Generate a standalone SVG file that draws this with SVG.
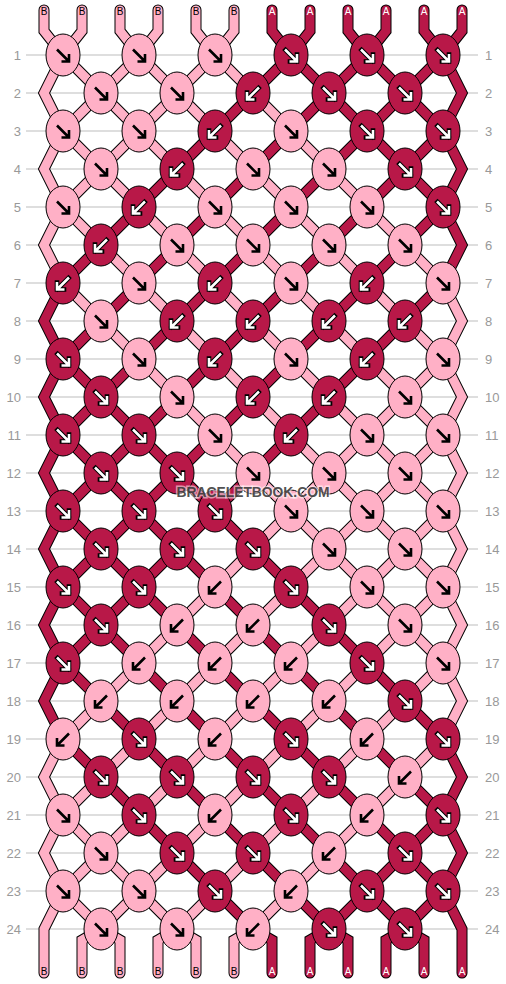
<svg xmlns="http://www.w3.org/2000/svg" xmlns:xlink="http://www.w3.org/1999/xlink" width="506" height="984" viewBox="0 0 506 984">
<style>
.g{stroke:#bdbdbd;stroke-width:1}
.lb{font-family:"Liberation Sans",Arial,sans-serif;font-size:13px;fill:#999}
.le{text-anchor:end}
.so{fill:none;stroke:#000;stroke-width:11;stroke-linecap:round;stroke-linejoin:miter}
.sp{fill:none;stroke:#ffb0c6;stroke-width:9;stroke-linecap:round;stroke-linejoin:miter}
.sd{fill:none;stroke:#b81848;stroke-width:9;stroke-linecap:round;stroke-linejoin:miter}
.kp{fill:#ffb0c6;stroke:#000;stroke-width:1}
.kd{fill:#b81848;stroke:#000;stroke-width:1}
.ab{fill:none;stroke:#000;stroke-width:2.6}
.ao{fill:none;stroke:#000;stroke-width:4.6;stroke-linecap:square}
.aw{fill:none;stroke:#fff;stroke-width:2.6}
.tb{font-family:"Liberation Sans",Arial,sans-serif;font-size:10px;fill:#000;text-anchor:middle}
.ta{font-family:"Liberation Sans",Arial,sans-serif;font-size:10px;fill:#fff;text-anchor:middle}
.wm{font-family:"Liberation Sans",Arial,sans-serif;font-weight:bold;font-size:15px;fill:#333;fill-opacity:.85;stroke:#fff;stroke-opacity:.55;stroke-width:3;paint-order:stroke;text-anchor:middle}
</style>
<defs>
<path id="s0" d="M44,10V31L63,55 101,93 139,131 177,169 215,207 253,245 291,283 329,321 367,359 405,397 443,435 462,473 443,511 405,549 367,587 329,625 291,663 253,701 215,739 177,777 139,815 101,853 63,891 44,929V973"/>
<path id="s1" d="M82,10V31L63,55 44,93 63,131 101,169 139,207 177,245 215,283 253,321 291,359 329,397 367,435 405,473 443,511 462,549 443,587 405,625 367,663 329,701 291,739 253,777 215,815 177,853 139,891 101,929 82,940V973"/>
<path id="s2" d="M120,10V31L139,55 177,93 215,131 253,169 291,207 329,245 367,283 405,321 443,359 462,397 443,435 405,473 367,511 329,549 291,587 253,625 215,663 177,701 139,739 101,777 63,815 44,853 63,891 101,929 120,940V973"/>
<path id="s3" d="M158,10V31L139,55 101,93 63,131 44,169 63,207 101,245 139,283 177,321 215,359 253,397 291,435 329,473 367,511 405,549 443,587 462,625 443,663 405,701 367,739 329,777 291,815 253,853 215,891 177,929 158,940V973"/>
<path id="s4" d="M196,10V31L215,55 253,93 291,131 329,169 367,207 405,245 443,283 462,321 443,359 405,397 367,435 329,473 291,511 253,549 215,587 177,625 139,663 101,701 63,739 44,777 63,815 101,853 139,891 177,929 196,940V973"/>
<path id="s5" d="M234,10V31L215,55 177,93 139,131 101,169 63,207 44,245 63,283 101,321 139,359 177,397 215,435 253,473 291,511 329,549 367,587 405,625 443,663 462,701 443,739 405,777 367,815 329,853 291,891 253,929 234,940V973"/>
<path id="s6" d="M272,10V31L291,55 329,93 367,131 405,169 443,207 462,245 443,283 405,321 367,359 329,397 291,435 253,473 215,511 177,549 139,587 101,625 63,663 44,701 63,739 101,777 139,815 177,853 215,891 253,929 272,940V973"/>
<path id="s7" d="M310,10V31L291,55 253,93 215,131 177,169 139,207 101,245 63,283 44,321 63,359 101,397 139,435 177,473 215,511 253,549 291,587 329,625 367,663 405,701 443,739 462,777 443,815 405,853 367,891 329,929 310,940V973"/>
<path id="s8" d="M348,10V31L367,55 405,93 443,131 462,169 443,207 405,245 367,283 329,321 291,359 253,397 215,435 177,473 139,511 101,549 63,587 44,625 63,663 101,701 139,739 177,777 215,815 253,853 291,891 329,929 348,940V973"/>
<path id="s9" d="M386,10V31L367,55 329,93 291,131 253,169 215,207 177,245 139,283 101,321 63,359 44,397 63,435 101,473 139,511 177,549 215,587 253,625 291,663 329,701 367,739 405,777 443,815 462,853 443,891 405,929 386,940V973"/>
<path id="s10" d="M424,10V31L443,55 462,93 443,131 405,169 367,207 329,245 291,283 253,321 215,359 177,397 139,435 101,473 63,511 44,549 63,587 101,625 139,663 177,701 215,739 253,777 291,815 329,853 367,891 405,929 424,940V973"/>
<path id="s11" d="M462,10V31L443,55 405,93 367,131 329,169 291,207 253,245 215,283 177,321 139,359 101,397 63,435 44,473 63,511 101,549 139,587 177,625 215,663 253,701 291,739 329,777 367,815 405,853 443,891 462,929V973"/>
<g id="pr"><ellipse rx="17" ry="21" class="kp"/><path class="ab" d="M-6,-5.5L5.5,6M6,-1V6.5H-1.5"/></g>
<g id="pl"><ellipse rx="17" ry="21" class="kp"/><path class="ab" d="M6,-5.5L-5.5,6M-6,-1V6.5H1.5"/></g>
<g id="dr"><ellipse rx="17" ry="21" class="kd"/><path class="ao" d="M-5.5,-5L5.5,6M6,-0.5V6.5H-1"/><path class="aw" d="M-6,-5.5L5.5,6M6,-1V6.5H-1.5"/></g>
<g id="dl"><ellipse rx="17" ry="21" class="kd"/><path class="ao" d="M5.5,-5L-5.5,6M-6,-0.5V6.5H1"/><path class="aw" d="M6,-5.5L-5.5,6M-6,-1V6.5H1.5"/></g>
</defs>
<rect width="506" height="984" fill="#fff"/>
<g id="grid">
<path class="g" d="M26,55H478M26,93H478M26,131H478M26,169H478M26,207H478M26,245H478M26,283H478M26,321H478M26,359H478M26,397H478M26,435H478M26,473H478M26,511H478M26,549H478M26,587H478M26,625H478M26,663H478M26,701H478M26,739H478M26,777H478M26,815H478M26,853H478M26,891H478M26,929H478"/>
</g>
<g id="row-labels" class="lb">
<g class="le">
<text x="21" y="59.5">1</text><text x="21" y="97.5">2</text><text x="21" y="135.5">3</text><text x="21" y="173.5">4</text><text x="21" y="211.5">5</text><text x="21" y="249.5">6</text><text x="21" y="287.5">7</text><text x="21" y="325.5">8</text><text x="21" y="363.5">9</text><text x="21" y="401.5">10</text><text x="21" y="439.5">11</text><text x="21" y="477.5">12</text><text x="21" y="515.5">13</text><text x="21" y="553.5">14</text><text x="21" y="591.5">15</text><text x="21" y="629.5">16</text><text x="21" y="667.5">17</text><text x="21" y="705.5">18</text><text x="21" y="743.5">19</text><text x="21" y="781.5">20</text><text x="21" y="819.5">21</text><text x="21" y="857.5">22</text><text x="21" y="895.5">23</text><text x="21" y="933.5">24</text>
</g>
<text x="485" y="59.5">1</text><text x="485" y="97.5">2</text><text x="485" y="135.5">3</text><text x="485" y="173.5">4</text><text x="485" y="211.5">5</text><text x="485" y="249.5">6</text><text x="485" y="287.5">7</text><text x="485" y="325.5">8</text><text x="485" y="363.5">9</text><text x="485" y="401.5">10</text><text x="485" y="439.5">11</text><text x="485" y="477.5">12</text><text x="485" y="515.5">13</text><text x="485" y="553.5">14</text><text x="485" y="591.5">15</text><text x="485" y="629.5">16</text><text x="485" y="667.5">17</text><text x="485" y="705.5">18</text><text x="485" y="743.5">19</text><text x="485" y="781.5">20</text><text x="485" y="819.5">21</text><text x="485" y="857.5">22</text><text x="485" y="895.5">23</text><text x="485" y="933.5">24</text>
</g>
<g id="connectors">
<g class="so">
<use href="#s0"/><use href="#s1"/><use href="#s2"/><use href="#s3"/><use href="#s4"/><use href="#s5"/><use href="#s6"/><use href="#s7"/><use href="#s8"/><use href="#s9"/><use href="#s10"/><use href="#s11"/>
</g>
<g class="sp"><use href="#s0"/><use href="#s1"/><use href="#s2"/><use href="#s3"/><use href="#s4"/><use href="#s5"/></g>
<g class="sd"><use href="#s6"/><use href="#s7"/><use href="#s8"/><use href="#s9"/><use href="#s10"/><use href="#s11"/></g>
</g>
<g id="string-labels">
<text class="tb" x="44" y="15">B</text><text class="tb" x="82" y="15">B</text><text class="tb" x="120" y="15">B</text><text class="tb" x="158" y="15">B</text><text class="tb" x="196" y="15">B</text><text class="tb" x="234" y="15">B</text>
<text class="ta" x="272" y="15">A</text><text class="ta" x="310" y="15">A</text><text class="ta" x="348" y="15">A</text><text class="ta" x="386" y="15">A</text><text class="ta" x="424" y="15">A</text><text class="ta" x="462" y="15">A</text>
<text class="tb" x="44" y="975">B</text><text class="tb" x="82" y="975">B</text><text class="tb" x="120" y="975">B</text><text class="tb" x="158" y="975">B</text><text class="tb" x="196" y="975">B</text><text class="tb" x="234" y="975">B</text>
<text class="ta" x="272" y="975">A</text><text class="ta" x="310" y="975">A</text><text class="ta" x="348" y="975">A</text><text class="ta" x="386" y="975">A</text><text class="ta" x="424" y="975">A</text><text class="ta" x="462" y="975">A</text>
</g>
<g id="knots">
<g id="k1-1" transform="translate(63,55)"><use href="#pr"/></g>
<g id="k1-2" transform="translate(139,55)"><use href="#pr"/></g>
<g id="k1-3" transform="translate(215,55)"><use href="#pr"/></g>
<g id="k1-4" transform="translate(291,55)"><use href="#dr"/></g>
<g id="k1-5" transform="translate(367,55)"><use href="#dr"/></g>
<g id="k1-6" transform="translate(443,55)"><use href="#dr"/></g>
<g id="k2-1" transform="translate(101,93)"><use href="#pr"/></g>
<g id="k2-2" transform="translate(177,93)"><use href="#pr"/></g>
<g id="k2-3" transform="translate(253,93)"><use href="#dl"/></g>
<g id="k2-4" transform="translate(329,93)"><use href="#dr"/></g>
<g id="k2-5" transform="translate(405,93)"><use href="#dr"/></g>
<g id="k3-1" transform="translate(63,131)"><use href="#pr"/></g>
<g id="k3-2" transform="translate(139,131)"><use href="#pr"/></g>
<g id="k3-3" transform="translate(215,131)"><use href="#dl"/></g>
<g id="k3-4" transform="translate(291,131)"><use href="#pr"/></g>
<g id="k3-5" transform="translate(367,131)"><use href="#dr"/></g>
<g id="k3-6" transform="translate(443,131)"><use href="#dr"/></g>
<g id="k4-1" transform="translate(101,169)"><use href="#pr"/></g>
<g id="k4-2" transform="translate(177,169)"><use href="#dl"/></g>
<g id="k4-3" transform="translate(253,169)"><use href="#pr"/></g>
<g id="k4-4" transform="translate(329,169)"><use href="#pr"/></g>
<g id="k4-5" transform="translate(405,169)"><use href="#dr"/></g>
<g id="k5-1" transform="translate(63,207)"><use href="#pr"/></g>
<g id="k5-2" transform="translate(139,207)"><use href="#dl"/></g>
<g id="k5-3" transform="translate(215,207)"><use href="#pr"/></g>
<g id="k5-4" transform="translate(291,207)"><use href="#pr"/></g>
<g id="k5-5" transform="translate(367,207)"><use href="#pr"/></g>
<g id="k5-6" transform="translate(443,207)"><use href="#dr"/></g>
<g id="k6-1" transform="translate(101,245)"><use href="#dl"/></g>
<g id="k6-2" transform="translate(177,245)"><use href="#pr"/></g>
<g id="k6-3" transform="translate(253,245)"><use href="#pr"/></g>
<g id="k6-4" transform="translate(329,245)"><use href="#pr"/></g>
<g id="k6-5" transform="translate(405,245)"><use href="#pr"/></g>
<g id="k7-1" transform="translate(63,283)"><use href="#dl"/></g>
<g id="k7-2" transform="translate(139,283)"><use href="#pr"/></g>
<g id="k7-3" transform="translate(215,283)"><use href="#dl"/></g>
<g id="k7-4" transform="translate(291,283)"><use href="#pr"/></g>
<g id="k7-5" transform="translate(367,283)"><use href="#dl"/></g>
<g id="k7-6" transform="translate(443,283)"><use href="#pr"/></g>
<g id="k8-1" transform="translate(101,321)"><use href="#pr"/></g>
<g id="k8-2" transform="translate(177,321)"><use href="#dl"/></g>
<g id="k8-3" transform="translate(253,321)"><use href="#dl"/></g>
<g id="k8-4" transform="translate(329,321)"><use href="#dl"/></g>
<g id="k8-5" transform="translate(405,321)"><use href="#dl"/></g>
<g id="k9-1" transform="translate(63,359)"><use href="#dr"/></g>
<g id="k9-2" transform="translate(139,359)"><use href="#pr"/></g>
<g id="k9-3" transform="translate(215,359)"><use href="#dl"/></g>
<g id="k9-4" transform="translate(291,359)"><use href="#pr"/></g>
<g id="k9-5" transform="translate(367,359)"><use href="#dl"/></g>
<g id="k9-6" transform="translate(443,359)"><use href="#pr"/></g>
<g id="k10-1" transform="translate(101,397)"><use href="#dr"/></g>
<g id="k10-2" transform="translate(177,397)"><use href="#pr"/></g>
<g id="k10-3" transform="translate(253,397)"><use href="#dl"/></g>
<g id="k10-4" transform="translate(329,397)"><use href="#dl"/></g>
<g id="k10-5" transform="translate(405,397)"><use href="#pr"/></g>
<g id="k11-1" transform="translate(63,435)"><use href="#dr"/></g>
<g id="k11-2" transform="translate(139,435)"><use href="#dr"/></g>
<g id="k11-3" transform="translate(215,435)"><use href="#pr"/></g>
<g id="k11-4" transform="translate(291,435)"><use href="#dl"/></g>
<g id="k11-5" transform="translate(367,435)"><use href="#pr"/></g>
<g id="k11-6" transform="translate(443,435)"><use href="#pr"/></g>
<g id="k12-1" transform="translate(101,473)"><use href="#dr"/></g>
<g id="k12-2" transform="translate(177,473)"><use href="#dr"/></g>
<g id="k12-3" transform="translate(253,473)"><use href="#pr"/></g>
<g id="k12-4" transform="translate(329,473)"><use href="#pr"/></g>
<g id="k12-5" transform="translate(405,473)"><use href="#pr"/></g>
<g id="k13-1" transform="translate(63,511)"><use href="#dr"/></g>
<g id="k13-2" transform="translate(139,511)"><use href="#dr"/></g>
<g id="k13-3" transform="translate(215,511)"><use href="#dr"/></g>
<g id="k13-4" transform="translate(291,511)"><use href="#pr"/></g>
<g id="k13-5" transform="translate(367,511)"><use href="#pr"/></g>
<g id="k13-6" transform="translate(443,511)"><use href="#pr"/></g>
<g id="k14-1" transform="translate(101,549)"><use href="#dr"/></g>
<g id="k14-2" transform="translate(177,549)"><use href="#dr"/></g>
<g id="k14-3" transform="translate(253,549)"><use href="#dr"/></g>
<g id="k14-4" transform="translate(329,549)"><use href="#pr"/></g>
<g id="k14-5" transform="translate(405,549)"><use href="#pr"/></g>
<g id="k15-1" transform="translate(63,587)"><use href="#dr"/></g>
<g id="k15-2" transform="translate(139,587)"><use href="#dr"/></g>
<g id="k15-3" transform="translate(215,587)"><use href="#pl"/></g>
<g id="k15-4" transform="translate(291,587)"><use href="#dr"/></g>
<g id="k15-5" transform="translate(367,587)"><use href="#pr"/></g>
<g id="k15-6" transform="translate(443,587)"><use href="#pr"/></g>
<g id="k16-1" transform="translate(101,625)"><use href="#dr"/></g>
<g id="k16-2" transform="translate(177,625)"><use href="#pl"/></g>
<g id="k16-3" transform="translate(253,625)"><use href="#pl"/></g>
<g id="k16-4" transform="translate(329,625)"><use href="#dr"/></g>
<g id="k16-5" transform="translate(405,625)"><use href="#pr"/></g>
<g id="k17-1" transform="translate(63,663)"><use href="#dr"/></g>
<g id="k17-2" transform="translate(139,663)"><use href="#pl"/></g>
<g id="k17-3" transform="translate(215,663)"><use href="#pl"/></g>
<g id="k17-4" transform="translate(291,663)"><use href="#pl"/></g>
<g id="k17-5" transform="translate(367,663)"><use href="#dr"/></g>
<g id="k17-6" transform="translate(443,663)"><use href="#pr"/></g>
<g id="k18-1" transform="translate(101,701)"><use href="#pl"/></g>
<g id="k18-2" transform="translate(177,701)"><use href="#pl"/></g>
<g id="k18-3" transform="translate(253,701)"><use href="#pl"/></g>
<g id="k18-4" transform="translate(329,701)"><use href="#pl"/></g>
<g id="k18-5" transform="translate(405,701)"><use href="#dr"/></g>
<g id="k19-1" transform="translate(63,739)"><use href="#pl"/></g>
<g id="k19-2" transform="translate(139,739)"><use href="#dr"/></g>
<g id="k19-3" transform="translate(215,739)"><use href="#pl"/></g>
<g id="k19-4" transform="translate(291,739)"><use href="#dr"/></g>
<g id="k19-5" transform="translate(367,739)"><use href="#pl"/></g>
<g id="k19-6" transform="translate(443,739)"><use href="#dr"/></g>
<g id="k20-1" transform="translate(101,777)"><use href="#dr"/></g>
<g id="k20-2" transform="translate(177,777)"><use href="#dr"/></g>
<g id="k20-3" transform="translate(253,777)"><use href="#dr"/></g>
<g id="k20-4" transform="translate(329,777)"><use href="#dr"/></g>
<g id="k20-5" transform="translate(405,777)"><use href="#pl"/></g>
<g id="k21-1" transform="translate(63,815)"><use href="#pr"/></g>
<g id="k21-2" transform="translate(139,815)"><use href="#dr"/></g>
<g id="k21-3" transform="translate(215,815)"><use href="#pl"/></g>
<g id="k21-4" transform="translate(291,815)"><use href="#dr"/></g>
<g id="k21-5" transform="translate(367,815)"><use href="#pl"/></g>
<g id="k21-6" transform="translate(443,815)"><use href="#dr"/></g>
<g id="k22-1" transform="translate(101,853)"><use href="#pr"/></g>
<g id="k22-2" transform="translate(177,853)"><use href="#dr"/></g>
<g id="k22-3" transform="translate(253,853)"><use href="#dr"/></g>
<g id="k22-4" transform="translate(329,853)"><use href="#pl"/></g>
<g id="k22-5" transform="translate(405,853)"><use href="#dr"/></g>
<g id="k23-1" transform="translate(63,891)"><use href="#pr"/></g>
<g id="k23-2" transform="translate(139,891)"><use href="#pr"/></g>
<g id="k23-3" transform="translate(215,891)"><use href="#dr"/></g>
<g id="k23-4" transform="translate(291,891)"><use href="#pl"/></g>
<g id="k23-5" transform="translate(367,891)"><use href="#dr"/></g>
<g id="k23-6" transform="translate(443,891)"><use href="#dr"/></g>
<g id="k24-1" transform="translate(101,929)"><use href="#pr"/></g>
<g id="k24-2" transform="translate(177,929)"><use href="#pr"/></g>
<g id="k24-3" transform="translate(253,929)"><use href="#pl"/></g>
<g id="k24-4" transform="translate(329,929)"><use href="#dr"/></g>
<g id="k24-5" transform="translate(405,929)"><use href="#dr"/></g>
</g>
<text id="watermark" class="wm" x="253" y="496.5" textLength="153" lengthAdjust="spacingAndGlyphs">BRACELETBOOK.COM</text>
</svg>
